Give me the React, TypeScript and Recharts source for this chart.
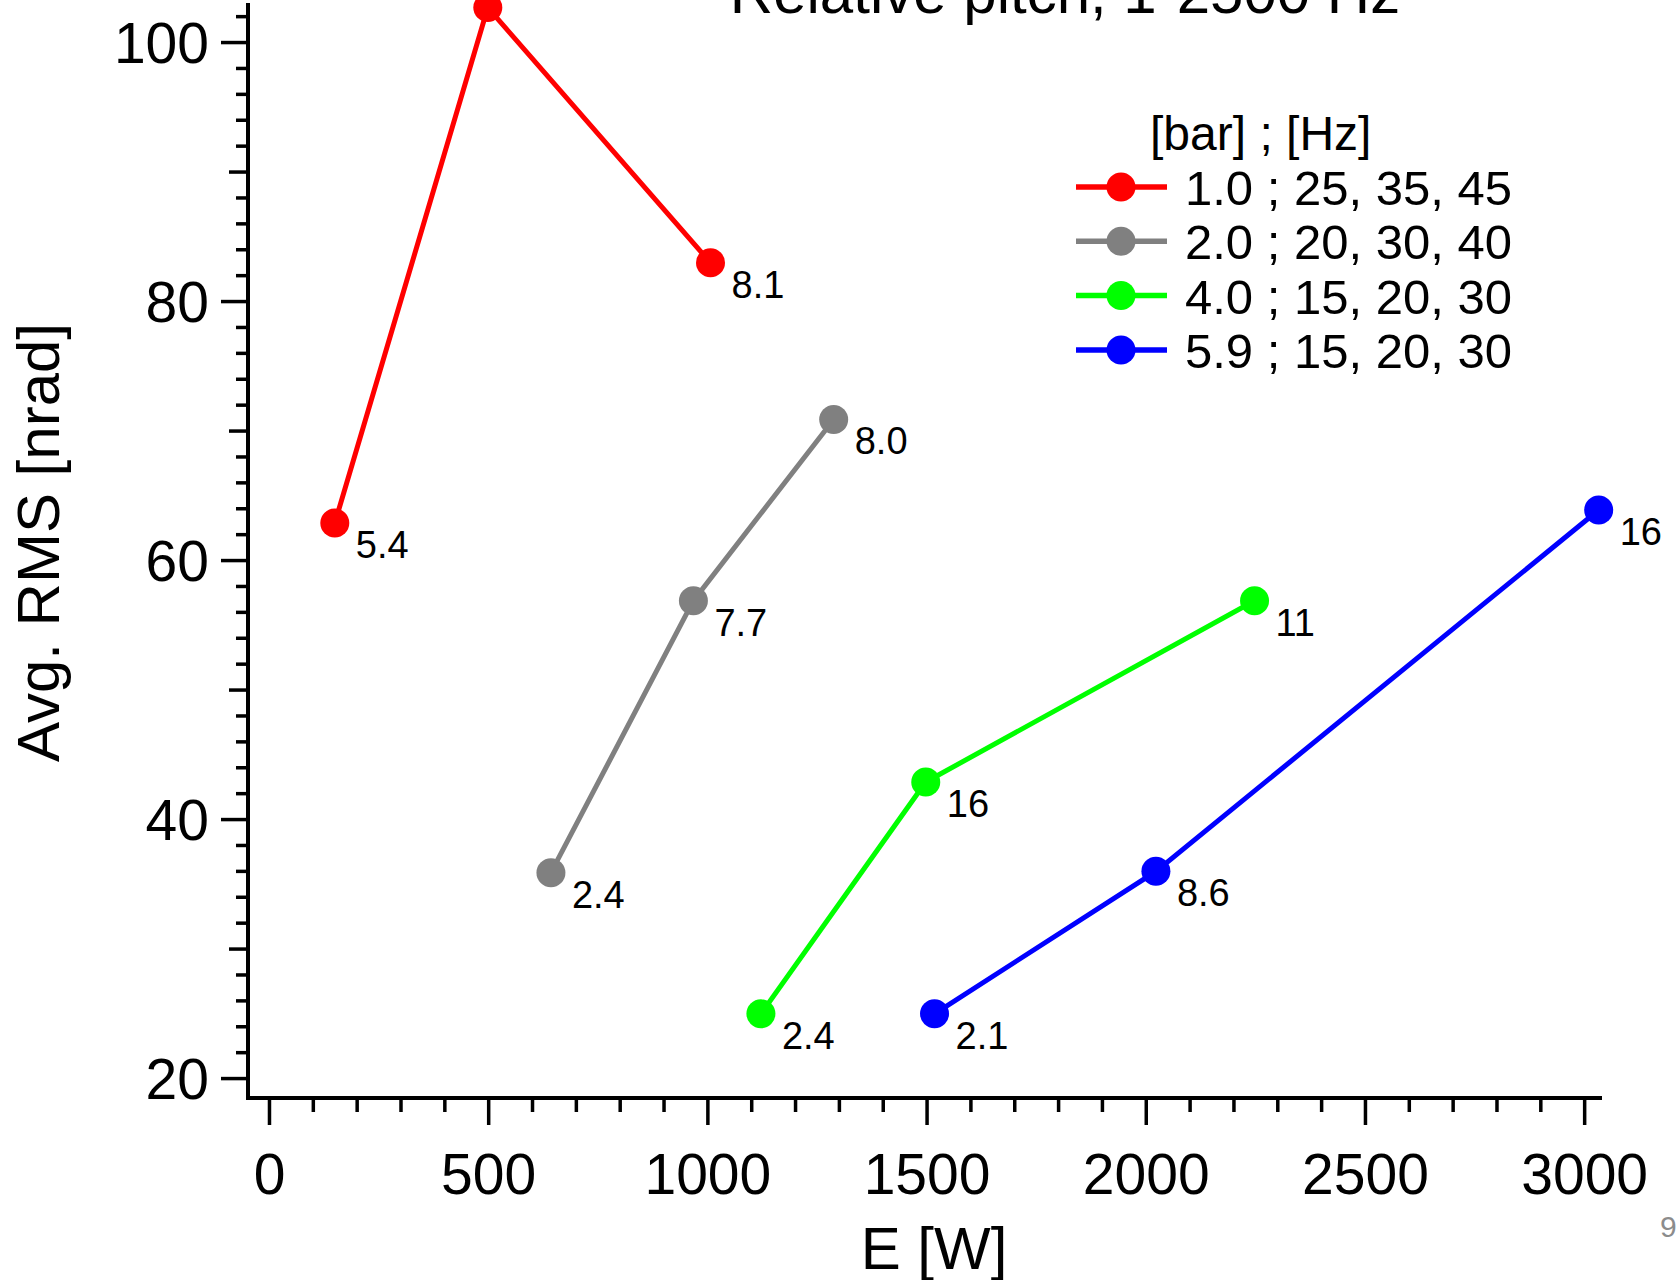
import { LabelList, Legend, Line, LineChart, XAxis, YAxis } from "recharts";

const FONT = '"Liberation Sans", Arial, sans-serif';

// legend text for each series: pressure [bar] ; frequencies [Hz]
const seriesNames = ["1.0 ; 25, 35, 45", "2.0 ; 20, 30, 40", "4.0 ; 15, 20, 30", "5.9 ; 15, 20, 30"];
const seriesColors = ["#ff0000", "#808080", "#00ff00", "#0000ff"];

const redPower = [149, 498, 1006];
const redRms = [62.9, 102.7, 83.0];
const redLabels = ["5.4", "", "8.1"];

const grayPower = [642, 967, 1287];
const grayRms = [35.9, 56.9, 70.9];
const grayLabels = ["2.4", "7.7", "8.0"];

const greenPower = [1121, 1497, 2247];
const greenRms = [25.0, 42.9, 56.9];
const greenLabels = ["2.4", "16", "11"];

const bluePower = [1517, 2022, 3032];
const blueRms = [25.0, 36.0, 63.9];
const blueLabels = ["2.1", "8.6", "16"];

const xTicks = Array.from({ length: 31 }, (_, i) => i * 100);
const yTicks = Array.from({ length: 42 }, (_, i) => 20 + i * 2);

const toRows = (power: number[], rms: number[], labels: string[]) =>
  power.map((e, i) => ({ e, rms: rms[i], label: labels[i] }));

const series = [
  toRows(redPower, redRms, redLabels),
  toRows(grayPower, grayRms, grayLabels),
  toRows(greenPower, greenRms, greenLabels),
  toRows(bluePower, blueRms, blueLabels),
];

const XTick = (p: any) => {
  const v = p.payload.value;
  const major = v % 500 === 0;
  return (
    <g>
      <line x1={p.x} x2={p.x} y1={p.y} y2={p.y + (major ? 27 : 14)} stroke="#000" strokeWidth={3.5} />
      {major && (
        <text x={p.x} y={p.y + 96} textAnchor="middle" fontSize={57} fontFamily={FONT} fill="#000">
          {v}
        </text>
      )}
    </g>
  );
};

const YTick = (p: any) => {
  const v = p.payload.value;
  const major = v % 20 === 0;
  const medium = !major && v % 10 === 0;
  const len = major ? 27 : medium ? 19 : 12;
  return (
    <g>
      <line x1={p.x} x2={p.x - len} y1={p.y} y2={p.y} stroke="#000" strokeWidth={3.5} />
      {major && (
        <text x={p.x - 39} y={p.y + 20} textAnchor="end" fontSize={57} fontFamily={FONT} fill="#000">
          {v}
        </text>
      )}
    </g>
  );
};

const XTitle = (p: any) => {
  const vb = p.viewBox || { x: 248, width: 1352 };
  return (
    <text x={vb.x + vb.width / 2 + 10} y={1269} textAnchor="middle" fontSize={60} fontFamily={FONT} fill="#000">
      E [W]
    </text>
  );
};

const YTitle = (p: any) => {
  const vb = p.viewBox || { y: 5, height: 1093 };
  const cx = 59;
  const cy = vb.y + vb.height / 2 - 9;
  return (
    <text x={cx} y={cy} transform={`rotate(-90 ${cx} ${cy})`} textAnchor="middle" fontSize={60} fontFamily={FONT} fill="#000">
      Avg. RMS [nrad]
    </text>
  );
};

const PointLabel = (p: any) => {
  if (!p.value) return null;
  return (
    <text x={p.x + 21} y={p.y + 35} fontSize={38} fontFamily={FONT} fill="#000">
      {p.value}
    </text>
  );
};

const LegendBox = (props: any) => {
  const items = props.payload || [];
  return (
    <svg width={450} height={300} style={{ overflow: "visible" }}>
      <text x={90} y={50} fontSize={48} fontFamily={FONT} fill="#000">
        [bar] ; [Hz]
      </text>
      {items.map((it: any, i: number) => {
        const base = 105 + i * 54.3;
        const cy = base - 18;
        return (
          <g key={it.value}>
            <line x1={16} x2={107} y1={cy} y2={cy} stroke={it.color} strokeWidth={5.5} />
            <circle cx={61} cy={cy} r={14.5} fill={it.color} />
            <text x={125} y={base} fontSize={49} fontFamily={FONT} fill="#000">
              {it.value}
            </text>
          </g>
        );
      })}
    </svg>
  );
};

export default function App() {
  return (
    <div style={{ position: "absolute", left: 0, top: 0, width: 1679, height: 1280, overflow: "hidden", background: "#fff" }}>
      <LineChart width={1679} height={1280} margin={{ top: 5, right: 79, bottom: 0, left: 0 }}>
        <XAxis
          type="number"
          dataKey="e"
          domain={[-49, 3035]}
          ticks={xTicks}
          interval={0}
          tick={XTick}
          tickLine={false}
          tickSize={0}
          tickMargin={0}
          height={182}
          axisLine={{ stroke: "#000", strokeWidth: 4, strokeLinecap: "square" }}
          label={{ value: "E [W]", content: XTitle }}
        />
        <YAxis
          type="number"
          domain={[18.5, 102.9]}
          ticks={yTicks}
          interval={0}
          tick={YTick}
          tickLine={false}
          tickSize={0}
          tickMargin={0}
          width={248}
          axisLine={{ stroke: "#000", strokeWidth: 4, strokeLinecap: "square" }}
          label={{ value: "Avg. RMS [nrad]", content: YTitle }}
        />
        <Legend
          layout="vertical"
          align="center"
          verticalAlign="middle"
          content={LegendBox}
          wrapperStyle={{ left: 1060, top: 100, width: 450, height: 300 }}
        />
        {series.map((rows, i) => (
          <Line
            key={seriesNames[i]}
            data={rows}
            dataKey="rms"
            name={seriesNames[i]}
            stroke={seriesColors[i]}
            strokeWidth={5}
            dot={{ r: 14.5, fill: seriesColors[i], stroke: seriesColors[i], strokeWidth: 0 }}
            activeDot={false}
            isAnimationActive={false}
          >
            <LabelList dataKey="label" content={PointLabel} />
          </Line>
        ))}
      </LineChart>
      <svg width={1679} height={1280} style={{ position: "absolute", left: 0, top: 0, pointerEvents: "none" }}>
        <text x={1065} y={13} textAnchor="middle" fontSize={60} fontFamily={FONT} fill="#000">
          Relative pitch, 1-2500 Hz
        </text>
        <text x={1660} y={1237} fontSize={30} fontFamily={FONT} fill="#8c8c8c">
          9
        </text>
      </svg>
    </div>
  );
}
